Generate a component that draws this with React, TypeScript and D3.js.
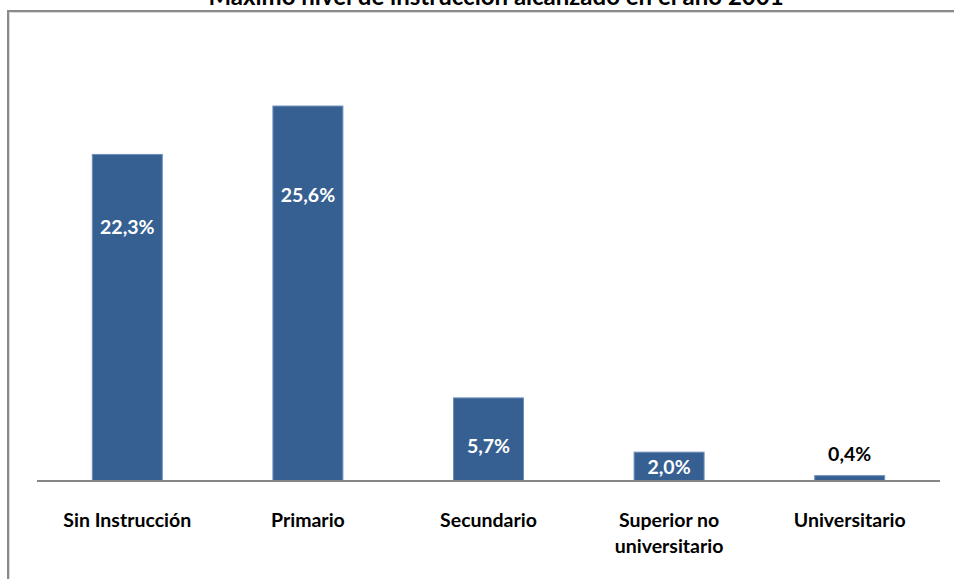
import * as d3 from "d3";

const categories = [
  ["Sin Instrucción"],
  ["Primario"],
  ["Secundario"],
  ["Superior no", "universitario"],
  ["Universitario"],
];
const values = [22.3, 25.6, 5.7, 2.0, 0.4];
const valueLabels = ["22,3%", "25,6%", "5,7%", "2,0%", "0,4%"];
// where each value label sits, in data units (the labels were placed by hand)
const labelAt = [17.3, 19.5, 2.4, 0.95, 1.85];
const title = "Máximo nivel de instrucción alcanzado en el año 2001";

const W = 954;
const H = 579;
const font = "Lato, 'Open Sans', sans-serif";

export default function App() {
  const x = d3
    .scaleBand<number>()
    .domain(values.map((_, i) => i))
    .range([37, 940])
    .paddingInner(0.607)
    .paddingOuter(0.3035);
  const y = d3.scaleLinear().domain([0, 30]).range([481, 41]);

  return (
    <svg
      width={W}
      height={H}
      style={{ position: "absolute", left: 0, top: 0, background: "#fff" }}
    >
      <text
        x={496}
        y={5}
        textAnchor="middle"
        fontFamily={font}
        fontWeight="bold"
        fontSize={24}
        fill="#000"
      >
        {title}
      </text>
      {/* chart frame, only top and left edges visible */}
      <line x1={8} y1={11} x2={W} y2={11} stroke="#8a8a8a" strokeWidth={2} />
      <line x1={8} y1={10} x2={8} y2={H} stroke="#8a8a8a" strokeWidth={2} />
      <line x1={9.5} y1={12.5} x2={W} y2={12.5} stroke="#d9d9d9" strokeWidth={1} />
      <line x1={9.5} y1={12} x2={9.5} y2={H} stroke="#d9d9d9" strokeWidth={1} />

      {values.map((v, i) => (
        <rect
          key={i}
          x={x(i)! + 0.5}
          y={y(v) + 0.5}
          width={x.bandwidth() - 1}
          height={y(0) - y(v) - 0.5}
          fill="#376092"
          stroke="#6f8fbb"
          strokeWidth={1}
        />
      ))}
      <line x1={37} y1={y(0)} x2={940} y2={y(0)} stroke="#868686" strokeWidth={2} />

      {values.map((v, i) => (
        <text
          key={i}
          x={x(i)! + x.bandwidth() / 2}
          y={y(labelAt[i])}
          dy="0.35em"
          textAnchor="middle"
          fontFamily={font}
          fontWeight="bold"
          fontSize={19.5}
          fill={y(labelAt[i]) < y(v) ? "#000" : "#fff"}
        >
          {valueLabels[i]}
        </text>
      ))}

      {categories.map((lines, i) => (
        <text
          key={i}
          x={x(i)! + x.bandwidth() / 2}
          y={527}
          textAnchor="middle"
          fontFamily={font}
          fontWeight="bold"
          fontSize={19.5}
          fill="#000"
        >
          {lines.map((l, j) => (
            <tspan key={j} x={x(i)! + x.bandwidth() / 2} dy={j === 0 ? 0 : 26}>
              {l}
            </tspan>
          ))}
        </text>
      ))}
    </svg>
  );
}
